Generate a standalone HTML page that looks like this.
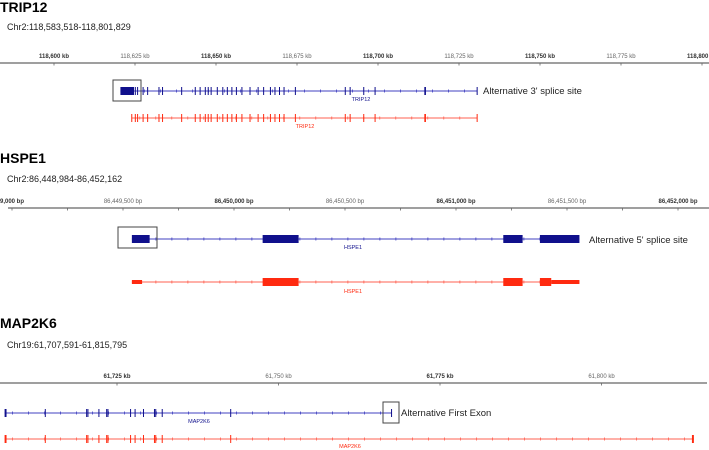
<!DOCTYPE html>
<html><head><meta charset="utf-8"><style>
html,body{margin:0;padding:0;background:#fff;}
svg{display:block;font-family:"Liberation Sans",sans-serif;}
.title{font-weight:bold;font-size:14px;fill:#000;}
.sub{font-size:9px;fill:#222;}
.tick{font-size:6px;fill:#666;text-anchor:middle;}
.tickb{font-size:6px;fill:#333;font-weight:bold;text-anchor:middle;}
.note{font-size:9.5px;fill:#222;}
</style></head><body>
<svg id="chart" width="709" height="450" viewBox="0 0 709 450"></svg>
<script>
// TRIP12 (kb)
const trip12Ticks = [118600,118625,118650,118675,118700,118725,118750,118775,118800];
const trip12BlueExons = [[118620.5,118624.7],[118625.1,118625.1],[118625.8,118625.8],[118627.5,118627.5],[118628.9,118628.9],[118632.4,118632.4],[118633.5,118633.5],[118639.4,118639.4],[118643.6,118643.6],[118645.1,118645.1],[118646.7,118646.7],[118647.6,118647.6],[118648.5,118648.5],[118650.4,118650.4],[118652.1,118652.1],[118653.5,118653.5],[118654.9,118654.9],[118656.3,118656.3],[118658.0,118658.0],[118660.5,118660.5],[118663.0,118663.0],[118664.7,118664.7],[118666.8,118666.8],[118668.2,118668.2],[118669.6,118669.6],[118671.0,118671.0],[118674.5,118674.5],[118689.9,118689.9],[118691.4,118691.4],[118695.6,118695.6],[118699.1,118699.1],[118714.3,118714.8],[118730.6,118730.6]];
const trip12RedExons = [[118624.0,118624.0],[118625.1,118625.1],[118625.8,118625.8],[118627.5,118627.5],[118628.9,118628.9],[118632.4,118632.4],[118633.5,118633.5],[118639.4,118639.4],[118643.6,118643.6],[118645.1,118645.1],[118646.7,118646.7],[118647.6,118647.6],[118648.5,118648.5],[118650.4,118650.4],[118652.1,118652.1],[118653.5,118653.5],[118654.9,118654.9],[118656.3,118656.3],[118658.0,118658.0],[118660.5,118660.5],[118663.0,118663.0],[118664.7,118664.7],[118666.8,118666.8],[118668.2,118668.2],[118669.6,118669.6],[118671.0,118671.0],[118674.5,118674.5],[118689.9,118689.9],[118691.4,118691.4],[118695.6,118695.6],[118699.1,118699.1],[118714.3,118714.8],[118730.6,118730.6]];
// HSPE1 (bp offset from 86,449,500)
const hspe1TickVals = [-500,0,500,1000,1500,2000,2500];
const hspe1TickLabels = ["9,000 bp","86,449,500 bp","86,450,000 bp","86,450,500 bp","86,451,000 bp","86,451,500 bp","86,452,000 bp"];
const hspe1BlueExons = [[40,120],[629,791],[1713,1800],[1878,2056]];
const hspe1RedExons = [[40,86,"thin"],[629,791,"full"],[1713,1800,"full"],[1878,1929,"full"],[1929,2056,"thin"]];
// MAP2K6 (kb)
const map2k6Ticks = [61725,61750,61775,61800];
const map2k6BlueExons = [[61707.6,61707.9],[61713.9,61713.9],[61720.3,61720.3],[61720.5,61720.5],[61722.2,61722.2],[61723.4,61723.4],[61723.6,61723.6],[61727.1,61727.1],[61727.8,61727.8],[61729.1,61729.1],[61730.8,61730.8],[61731.0,61731.0],[61732.0,61732.0],[61742.6,61742.6],[61767.5,61767.5]];
const map2k6RedExons = [[61707.6,61707.9],[61713.9,61713.9],[61720.3,61720.3],[61720.5,61720.5],[61722.2,61722.2],[61723.4,61723.4],[61723.6,61723.6],[61727.1,61727.1],[61727.8,61727.8],[61729.1,61729.1],[61730.8,61730.8],[61731.0,61731.0],[61732.0,61732.0],[61742.6,61742.6],[61814.0,61814.3]];

const NS="http://www.w3.org/2000/svg";
const svg=document.getElementById('chart');
function mk(tag,attrs,text){const e=document.createElementNS(NS,tag);for(const k in attrs)e.setAttribute(k,attrs[k]);if(text!==undefined)e.textContent=text;svg.appendChild(e);return e;}

const xT=kb=>54+(kb-118600)*3.24;
const xH=bp=>123+bp*0.222;
const xM=kb=>117+(kb-61725)*6.46;

function header(t,s,ty,sy,id){
  let e=mk('text',{x:0,y:ty,class:'title'},t);
  
  
  e=mk('text',{x:7,y:sy,class:'sub'},s);
  
  
}
function axis(y,x0,x1,ticks,fx,labels,id,minor){
  let l=mk('line',{x1:x0,x2:x1,y1:y,y2:y,stroke:'#666','stroke-width':1.2});
  
  
  ticks.forEach((v,i)=>{
    const x=fx(v);
    mk('line',{x1:x,x2:x,y1:y,y2:y+2.5,stroke:'#666','stroke-width':0.8});
    const t=mk('text',{x:x,y:y-5,class:(i%2==0?'tickb':'tick')},labels[i]);
    
    
  });
  if(minor) for(let i=0;i<ticks.length-1;i++){const x=(fx(ticks[i])+fx(ticks[i+1]))/2;mk('line',{x1:x,x2:x,y1:y,y2:y+2.5,stroke:'#666','stroke-width':0.8});}
}
function transcript(y,exons,fx,color,lineColor,h,id){
  const xs=exons.map(e=>fx(e[0])), xe=exons.map(e=>fx(e[1]));
  const a=Math.min(...xs), b=Math.max(...xe);
  let l=mk('line',{x1:a,x2:b,y1:y,y2:y,stroke:lineColor,'stroke-width':1});
  
  
  for(let x=a+8;x<b-4;x+=16){mk('line',{x1:x,x2:x,y1:y-1.5,y2:y+1.5,stroke:lineColor,'stroke-width':0.8});}
  exons.forEach((e,i)=>{
    const x0=fx(e[0]),x1=fx(e[1]);
    let hh=h; if(e[2]==='thin') hh=h/2;
    const w=Math.max(1,x1-x0);
    const r=mk('rect',{x:x0-(w===1?0.5:0),y:y-hh/2,width:w,height:hh,fill:color});
    
    
  });
}
function label(x,y,t,color,id){const e=mk('text',{x:x,y:y,'font-size':'5.5','text-anchor':'middle',fill:color},t);}
function box(x,y,w,h,id){const r=mk('rect',{x:x,y:y,width:w,height:h,fill:'none',stroke:'#444','stroke-width':1});}
function note(x,y,t,id){const e=mk('text',{x:x,y:y,class:'note'},t);}

const BL='#10108c', BLL='#4040c0', RD='#ff2a10', RDL='#ff6050';
// TRIP12
header('TRIP12','Chr2:118,583,518-118,801,829',12,30,'trip12');
axis(63,0,709,trip12Ticks,xT,trip12Ticks.map(v=>v.toLocaleString('en-US')+' kb'),'trip12',false);
transcript(91,trip12BlueExons,xT,BL,BLL,8,'trip12-blue');
transcript(118,trip12RedExons,xT,RD,RDL,8,'trip12-red');
box(113,80,28,21,'trip12-highlight-box');
label(361,101,'TRIP12',BL,'trip12-blue-label');
label(305,128,'TRIP12',RD,'trip12-red-label');
note(483,94,"Alternative 3' splice site",'trip12-annotation');
// HSPE1
header('HSPE1','Chr2:86,448,984-86,452,162',163,182,'hspe1');
axis(208,8,709,hspe1TickVals,xH,hspe1TickLabels,'hspe1',true);
transcript(239,hspe1BlueExons,xH,BL,BLL,8,'hspe1-blue');
transcript(282,hspe1RedExons,xH,RD,RDL,8,'hspe1-red');
box(118,227,39,21,'hspe1-highlight-box');
label(353,249,'HSPE1',BL,'hspe1-blue-label');
label(353,293,'HSPE1',RD,'hspe1-red-label');
note(589,243,"Alternative 5' splice site",'hspe1-annotation');
// MAP2K6
header('MAP2K6','Chr19:61,707,591-61,815,795',328,348,'map2k6');
axis(383,0,707,map2k6Ticks,xM,map2k6Ticks.map(v=>v.toLocaleString('en-US')+' kb'),'map2k6',false);
transcript(413,map2k6BlueExons,xM,BL,BLL,8,'map2k6-blue');
transcript(439,map2k6RedExons,xM,RD,RDL,8,'map2k6-red');
box(383,402,16,21,'map2k6-highlight-box');
label(199,423,'MAP2K6',BL,'map2k6-blue-label');
label(350,448,'MAP2K6',RD,'map2k6-red-label');
note(401,416,'Alternative First Exon','map2k6-annotation');
</script>
</body></html>
